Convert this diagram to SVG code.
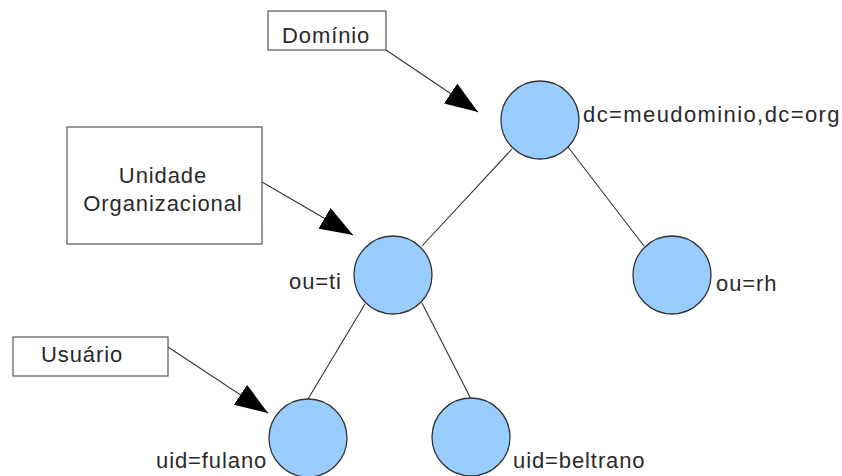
<svg xmlns="http://www.w3.org/2000/svg" width="842" height="476" viewBox="0 0 842 476">
<style>
.bg{fill:#ffffff}
.node{fill:#99ccff;stroke:#333333;stroke-width:1.3}
.box{fill:#ffffff;stroke:#555555;stroke-width:1.2}
.edge{stroke:#333333;stroke-width:1.1;fill:none}
.ptr{stroke:#333333;stroke-width:1.1;fill:none;marker-end:url(#ah)}
text{font-family:"Liberation Sans",Arial,sans-serif;font-size:22px;fill:#2a2a2a;letter-spacing:0.9px}
.wide{letter-spacing:1.4px}
</style>
<defs>
<marker id="ah" markerUnits="userSpaceOnUse" viewBox="0 0 33 24" refX="33" refY="12" markerWidth="33" markerHeight="24" orient="auto">
<path d="M0,0 L33,12 L0,24 z" fill="#000000"/>
</marker>
</defs>
<rect class="bg" x="0" y="0" width="842" height="476"/>
<g id="connectors">
<line class="edge" x1="512" y1="149" x2="422" y2="246"/>
<line class="edge" x1="568" y1="147" x2="644" y2="246"/>
<line class="edge" x1="365" y1="304" x2="308" y2="399"/>
<line class="edge" x1="422" y1="303" x2="471" y2="399"/>
<line class="ptr" x1="386" y1="50" x2="478" y2="112"/>
<line class="ptr" x1="262" y1="182" x2="353" y2="235"/>
<line class="ptr" x1="168" y1="347" x2="268" y2="413"/>
</g>
<g id="label-dominio">
<rect class="box" x="268" y="11" width="118" height="39"/>
<text x="282" y="43">Domínio</text>
</g>
<g id="label-unidade">
<rect class="box" x="67" y="127" width="195" height="117"/>
<text x="163" y="183" text-anchor="middle">Unidade</text>
<text x="163" y="211" text-anchor="middle">Organizacional</text>
</g>
<g id="label-usuario">
<rect class="box" x="13" y="337" width="155" height="39"/>
<text x="41" y="362">Usuário</text>
</g>
<g id="node-root">
<circle class="node" cx="540" cy="120" r="39"/>
<text class="wide" x="583" y="122">dc=meudominio,dc=org</text>
</g>
<g id="node-ti">
<circle class="node" cx="393" cy="275" r="39"/>
<text x="289" y="289">ou=ti</text>
</g>
<g id="node-rh">
<circle class="node" cx="672" cy="275" r="39"/>
<text x="716" y="291">ou=rh</text>
</g>
<g id="node-fulano">
<circle class="node" cx="308" cy="438" r="39"/>
<text x="156" y="468">uid=fulano</text>
</g>
<g id="node-beltrano">
<circle class="node" cx="471" cy="437" r="39"/>
<text x="513" y="468">uid=beltrano</text>
</g>
</svg>
